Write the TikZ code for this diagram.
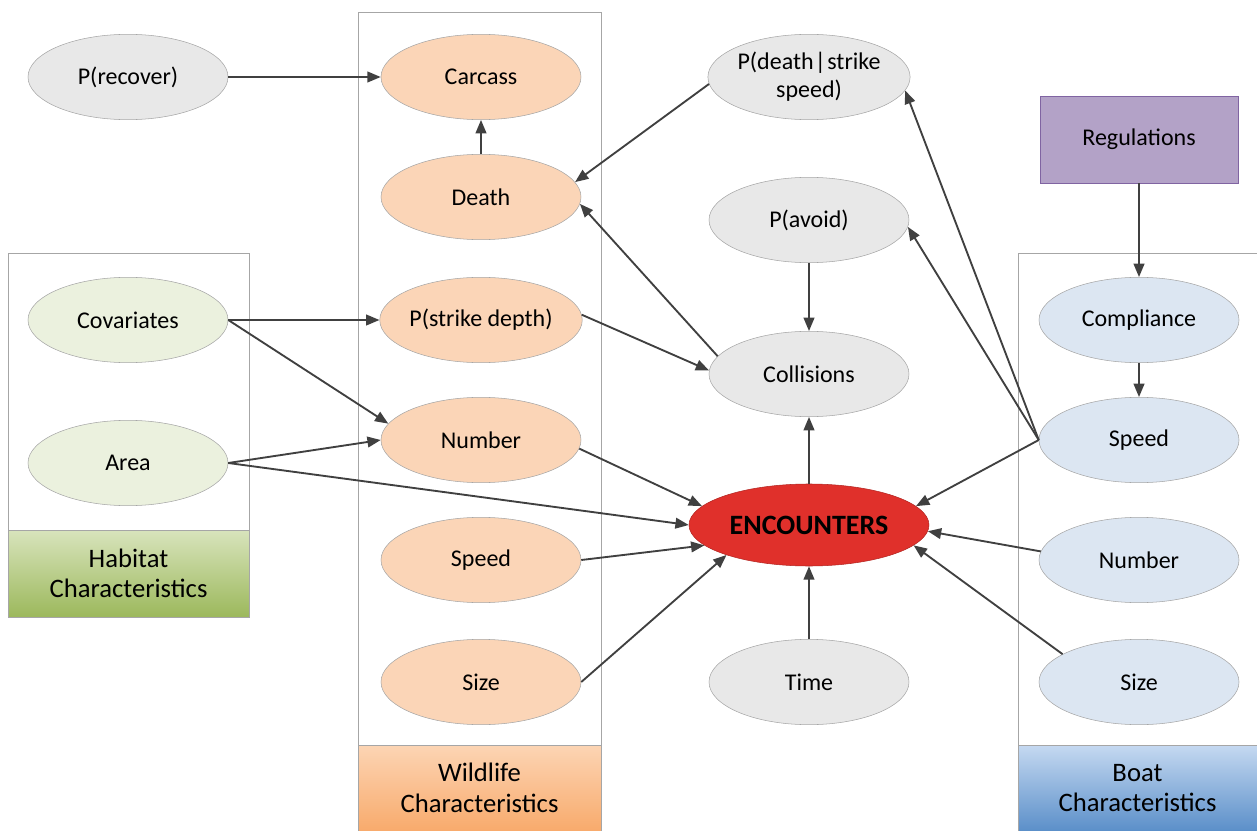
\documentclass[tikz,border=0pt]{standalone}
\usepackage{fontspec}
\setmainfont{Carlito}
\usetikzlibrary{arrows.meta,shapes.geometric}
\definecolor{grfill}{HTML}{E8E8E8}
\definecolor{orfill}{HTML}{FBD5B7}
\definecolor{gnfill}{HTML}{EBF1DE}
\definecolor{blfill}{HTML}{DCE6F2}
\definecolor{edgec}{HTML}{A6A6A6}
\definecolor{arrc}{HTML}{404040}
\definecolor{encred}{HTML}{E0302B}
\definecolor{regfill}{HTML}{B3A2C7}
\definecolor{regedge}{HTML}{8064A2}
\definecolor{hgtop}{HTML}{D8E4BC}
\definecolor{hgbot}{HTML}{9CB85C}
\definecolor{hotop}{HTML}{FCD5B4}
\definecolor{hobot}{HTML}{F8AA6C}
\definecolor{hbtop}{HTML}{C5D9F1}
\definecolor{hbbot}{HTML}{5B8FC9}
\tikzset{
  ell/.style={ellipse,draw=edgec,fill=#1,minimum width=150pt,minimum height=64pt,inner sep=0pt,align=center,font=\fontsize{18}{21}\selectfont},
  ell/.default={grfill},
  arr/.style={-{Triangle[length=10pt,width=8pt]},line width=1.4pt,draw=arrc},
  pnl/.style={draw=edgec,line width=0.6pt},
  hdr/.style={draw=edgec,line width=0.6pt,align=center,inner sep=0pt,font=\fontsize{20}{23}\selectfont},
}

\begin{document}
\begin{tikzpicture}[x=0.75pt,y=-0.75pt]
 \useasboundingbox (0,0) rectangle (1257,831);
 % panels
 \draw[pnl] (8,253) rectangle (249,617);
 \draw[pnl] (358,12) rectangle (601,831);
 \draw[pnl] (1018,253) rectangle (1257,831);
 \node[hdr,top color=hgtop,bottom color=hgbot,minimum width=180.75pt,minimum height=65.25pt] (habhd) at (128.5,573.5){Habitat\\Characteristics};
 \node[hdr,top color=hotop,bottom color=hobot,minimum width=182.25pt,minimum height=64.5pt] (wildhd) at (479.5,788){Wildlife\\Characteristics};
 \node[hdr,top color=hbtop,bottom color=hbbot,minimum width=179.25pt,minimum height=64.5pt] (boathd) at (1137.5,788){Boat\\Characteristics};
 % habitat
 \node[ell=gnfill] (cov) at (128,320){Covariates};
 \node[ell=gnfill] (area) at (128,463){Area};
 % wildlife
 \node[ell] (prec) at (128,77){P(recover)};
 \node[ell=orfill] (carc) at (481,77){Carcass};
 \node[ell=orfill] (death) at (481,197){Death};
 \node[ell=orfill] (psd) at (481,320){P(strike depth)};
 \node[ell=orfill] (num) at (481,440){Number};
 \node[ell=orfill] (wspd) at (481,560){Speed};
 \node[ell=orfill] (wsz) at (481,682){Size};
 % middle
 \node[ell] (pdeath) at (809,77){P(death\kern1pt|\kern1pt strike\\speed)};
 \node[ell] (pav) at (809,220){P(avoid)};
 \node[ell] (coll) at (809,374){Collisions};
 \node[ell=encred,draw=encred!80!black,minimum width=180pt,minimum height=61.5pt,font=\fontsize{21}{24}\selectfont\bfseries] (enc) at (809,525){ENCOUNTERS};
 \node[ell] (time) at (809,682){Time};
 % boat
 \node[draw=regedge,fill=regfill,minimum width=148.5pt,minimum height=65.25pt,font=\fontsize{18}{21}\selectfont] (reg) at (1139,139.5){Regulations};
 \node[ell=blfill] (comp) at (1139,320){Compliance};
 \node[ell=blfill] (bspd) at (1139,440){Speed};
 \node[ell=blfill] (bnum) at (1139,560){Number};
 \node[ell=blfill] (bsz) at (1139,682){Size};
 % connectors
 \draw[arr] (prec)--(carc);
 \draw[arr] (death)--(carc);
 \draw[arr] (pdeath.184)--(death.9);
 \draw[arr] (coll.169)--(death.-4);
 \draw[arr] (pav)--(coll);
 \draw[arr] (psd.3)--(coll.178);
 \draw[arr] (cov)--(psd);
 \draw[arr] (cov.east)--(num.170);
 \draw[arr] (area.east)--(num.180);
 \draw[arr] (area.east)--(enc.west);
 \draw[arr] (num.-5)--(enc.170);
 \draw[arr] (wspd.east)--(enc.191);
 \draw[arr] (wsz.east)--(enc.200);
 \draw[arr] (enc)--(coll);
 \draw[arr] (time)--(enc);
 \draw[arr] (reg)--(comp);
 \draw[arr] (comp)--(bspd);
 \draw[arr] (bspd.west)--(pdeath.-8);
 \draw[arr] (bspd.west)--(pav.-4);
 \draw[arr] (bspd.west)--(enc.10);
 \draw[arr] (bnum.175)--(enc.-3);
 \draw[arr] (bsz.160)--(enc.-11);
\end{tikzpicture}
\end{document}
